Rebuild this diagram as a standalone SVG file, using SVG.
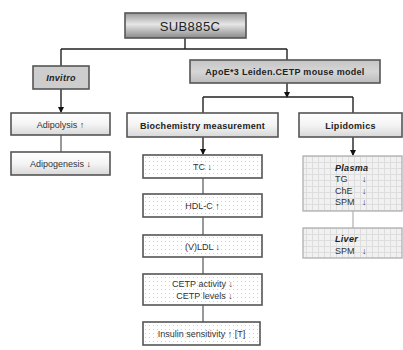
<svg xmlns="http://www.w3.org/2000/svg" width="403" height="350" viewBox="0 0 403 350">
<defs>
<linearGradient id="gDark" x1="0" y1="0" x2="0" y2="1">
<stop offset="0" stop-color="#9a9a9a"/><stop offset="0.45" stop-color="#e6e6e6"/><stop offset="1" stop-color="#8a8a8a"/>
</linearGradient>
<linearGradient id="gMid" x1="0" y1="0" x2="0" y2="1">
<stop offset="0" stop-color="#c4c4c4"/><stop offset="0.5" stop-color="#d6d6d6"/><stop offset="1" stop-color="#bcbcbc"/>
</linearGradient>
<linearGradient id="gLight" x1="0" y1="0" x2="0" y2="1">
<stop offset="0" stop-color="#ffffff"/><stop offset="0.5" stop-color="#f4f4f4"/><stop offset="1" stop-color="#d8d8d8"/>
</linearGradient>
<pattern id="dots" width="4" height="4" patternUnits="userSpaceOnUse">
<rect width="4" height="4" fill="#ffffff"/><rect x="1" y="1" width="1" height="1" fill="#d0d0d0"/>
</pattern>
<pattern id="grid" width="6" height="6" patternUnits="userSpaceOnUse">
<rect width="6" height="6" fill="#f1f1f1"/><path d="M0 0.5H6M0.5 0V6" stroke="#dddddd" stroke-width="1"/>
</pattern>
<marker id="arr" markerWidth="6" markerHeight="6" refX="5" refY="3" orient="auto" markerUnits="userSpaceOnUse">
<path d="M0 0L6 3L0 6Z" fill="#111"/>
</marker>
</defs>
<style>
.box{stroke:#555;stroke-width:1.6}
.lbox{stroke:#b0b0b0;stroke-width:1.3}
.t{font-family:"Liberation Sans",Arial,sans-serif;font-size:9px;fill:#333;text-anchor:middle}
.b{font-weight:bold;fill:#222;letter-spacing:0.3px}
.i{font-style:italic}
.c{fill:none;stroke:#222;stroke-width:1.4}
.cg{fill:none;stroke:#555;stroke-width:1.2}
.cl{fill:none;stroke:#b0b0b0;stroke-width:1.2}
</style>
<g id="connectors">
<path class="c" d="M185 38V49M61 49H287M61 49V66M287 49V60"/>
<path class="c" d="M61 89V112" marker-end="url(#arr)"/>
<path class="cg" d="M61 135V152"/>
<path class="c" d="M287 83V97" marker-end="url(#arr)"/>
<path class="c" d="M203 97H353M203 97V113M353 97V113"/>
<path class="c" d="M203 137V154" marker-end="url(#arr)"/>
<path class="cg" d="M203 178V194M203 217V235M203 257V274M203 305V322"/>
<path class="c" d="M353 137V155" marker-end="url(#arr)"/>
<path class="cl" d="M353 211V228"/>
</g>
<g id="sub885c">
<rect class="box" x="125" y="13" width="121" height="25" fill="url(#gDark)"/>
<text class="t" x="190" y="30.5" style="font-size:13px;fill:#222;letter-spacing:0.4px">SUB885C</text>
</g>
<g id="invitro">
<rect class="box" x="33" y="66" width="56" height="23" fill="#cdcdcd"/>
<text class="t b i" x="61" y="81">Invitro</text>
</g>
<g id="adipolysis">
<rect class="box" x="11" y="113" width="99" height="22" fill="url(#gLight)"/>
<text class="t" x="60.5" y="127.5">Adipolysis ↑</text>
</g>
<g id="adipogenesis">
<rect class="box" x="11" y="152" width="99" height="23" fill="url(#gLight)"/>
<text class="t" x="60.5" y="167">Adipogenesis ↓</text>
</g>
<g id="apoe">
<rect class="box" x="190" y="60" width="190" height="23" fill="url(#gMid)"/>
<text class="t b" x="285" y="75">ApoE*3 Leiden.CETP mouse model</text>
</g>
<g id="biochemistry">
<rect class="box" x="127" y="113" width="151" height="24" fill="url(#gLight)"/>
<text class="t b" x="202.5" y="128.5">Biochemistry measurement</text>
</g>
<g id="lipidomics">
<rect class="box" x="299" y="113" width="103" height="24" fill="url(#gLight)"/>
<text class="t b" x="350.5" y="128.5">Lipidomics</text>
</g>
<g id="tc">
<rect class="box" x="143" y="155" width="119" height="23" fill="url(#dots)"/>
<text class="t" x="202.5" y="170">TC ↓</text>
</g>
<g id="hdlc">
<rect class="box" x="143" y="194" width="119" height="23" fill="url(#dots)"/>
<text class="t" x="202.5" y="209">HDL-C ↑</text>
</g>
<g id="vldl">
<rect class="box" x="143" y="235" width="119" height="22" fill="url(#dots)"/>
<text class="t" x="202.5" y="249.5">(V)LDL ↓</text>
</g>
<g id="cetp">
<rect class="box" x="143" y="274" width="119" height="31" fill="url(#dots)"/>
<text class="t" x="202.5" y="287">CETP activity  ↓</text>
<text class="t" x="204.5" y="299">CETP levels  ↓</text>
</g>
<g id="insulin">
<rect class="box" x="143" y="322" width="117" height="23" fill="url(#dots)"/>
<text class="t" x="201.5" y="337">Insulin sensitivity ↑ [T]</text>
</g>
<g id="plasma">
<rect class="lbox" x="303" y="156" width="99" height="55" fill="url(#grid)"/>
<text class="t b i" x="335" y="170.5" style="text-anchor:start;font-weight:bold">Plasma</text>
<text class="t" x="335" y="182" style="text-anchor:start">TG<tspan x="362">↓</tspan></text>
<text class="t" x="335" y="193.5" style="text-anchor:start">ChE<tspan x="362">↓</tspan></text>
<text class="t" x="335" y="205" style="text-anchor:start">SPM<tspan x="362">↓</tspan></text>
</g>
<g id="liver">
<rect class="lbox" x="303" y="228" width="99" height="30" fill="url(#grid)"/>
<text class="t b i" x="335" y="242" style="text-anchor:start">Liver</text>
<text class="t" x="335" y="254" style="text-anchor:start">SPM<tspan x="362">↓</tspan></text>
</g>
</svg>
